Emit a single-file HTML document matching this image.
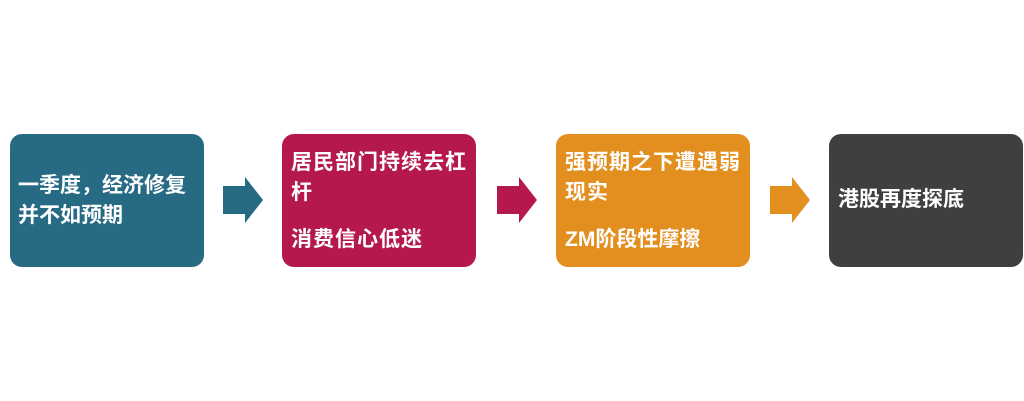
<!DOCTYPE html>
<html><head><meta charset="utf-8"><style>
body{margin:0;width:1024px;height:401px;background:#fff;position:relative;overflow:hidden;font-family:"Liberation Sans","Noto Sans CJK SC",sans-serif;}
.b{position:absolute;top:134px;width:194px;height:133px;border-radius:12px;color:#fff;font-weight:bold;font-size:21px;box-sizing:border-box;}
.b p{margin:0;line-height:30px;position:absolute;left:9px;width:184px;}
svg{position:absolute;top:0;left:0}
</style></head><body>
<div class="b" style="left:10px;background:#276a84"><p style="top:37px;left:8px;width:178px">一季度，经济修复并不如预期</p></div>
<div class="b" style="left:282px;background:#b4184f"><p style="top:14px;letter-spacing:1px">居民部门持续去杠杆</p><p style="top:91px;letter-spacing:1px">消费信心低迷</p></div>
<div class="b" style="left:556px;background:#e38f1f"><p style="top:14px;letter-spacing:1px">强预期之下遭遇弱现实</p><p style="top:91px">ZM阶段性摩擦</p></div>
<div class="b" style="left:829px;background:#3f3f3f"><p style="top:51px">港股再度探底</p></div>
<svg width="1024" height="401">
<polygon points="223,186 245,186 245,177 263,200 245,223 245,214 223,214" fill="#276a84"/>
<polygon points="497,186 519,186 519,177 537,200 519,223 519,214 497,214" fill="#b4184f"/>
<polygon points="770,186 792,186 792,177 810,200 792,223 792,214 770,214" fill="#e38f1f"/>
</svg>
</body></html>
